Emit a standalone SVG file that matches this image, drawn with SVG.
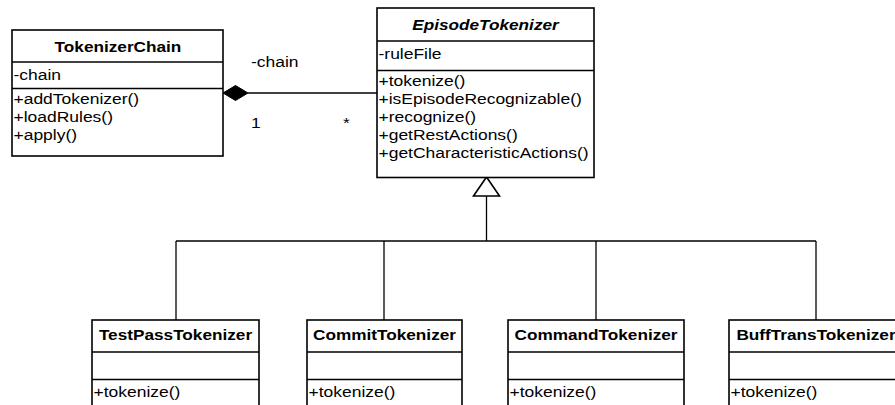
<svg xmlns="http://www.w3.org/2000/svg" width="895" height="405" viewBox="0 0 895 405">
  <style>
    .box { fill: #fff; stroke: #000; stroke-width: 1.6; }
    .div { stroke: #000; stroke-width: 1.6; }
    .edge { fill: none; stroke: #000; stroke-width: 1.3; }
    text { font-family: "Liberation Sans", Arial, sans-serif; font-size: 15px; fill: #000; }
    .ttl { font-weight: bold; text-anchor: middle; }
    .abs { font-style: italic; }
  </style>
  <rect width="895" height="405" fill="#fff"/>

  <!-- connectors: composition and generalization -->
  <g id="connectors">
    <line class="edge" x1="248" y1="93" x2="377" y2="93"/>
    <polygon points="223,93 235.5,85.5 248,93 235.5,100.5" fill="#000" stroke="#000" stroke-width="1"/>
    <text transform="matrix(1.165 0 0 1 251 67)">-chain</text>
    <text transform="matrix(1.165 0 0 1 251 128)">1</text>
    <text transform="matrix(1.165 0 0 1 343 128)">*</text>

    <line class="edge" x1="486.5" y1="196" x2="486.5" y2="241"/>
    <line class="edge" x1="176" y1="241" x2="816" y2="241"/>
    <line class="edge" x1="176" y1="241" x2="176" y2="320"/>
    <line class="edge" x1="384" y1="241" x2="384" y2="320"/>
    <line class="edge" x1="596" y1="241" x2="596" y2="320"/>
    <line class="edge" x1="816" y1="241" x2="816" y2="320"/>
    <polygon points="486.5,177 473.5,196 499.5,196" fill="#fff" stroke="#000" stroke-width="1.6"/>
  </g>

  <g id="TokenizerChain">
    <rect class="box" x="12" y="30" width="211" height="126"/>
    <line class="div" x1="12" y1="62" x2="223" y2="62"/>
    <line class="div" x1="12" y1="88.5" x2="223" y2="88.5"/>
    <text class="ttl" transform="matrix(1.148 0 0 1 118 52)">TokenizerChain</text>
    <text transform="matrix(1.165 0 0 1 13.5 79.5)">-chain</text>
    <text transform="matrix(1.165 0 0 1 13.5 104)">+addTokenizer()</text>
    <text transform="matrix(1.165 0 0 1 13.5 122)">+loadRules()</text>
    <text transform="matrix(1.165 0 0 1 13.5 140)">+apply()</text>
  </g>

  <g id="EpisodeTokenizer">
    <rect class="box" x="377" y="8" width="217" height="169.5"/>
    <line class="div" x1="377" y1="41" x2="594" y2="41"/>
    <line class="div" x1="377" y1="70.5" x2="594" y2="70.5"/>
    <text class="ttl abs" transform="matrix(1.148 0 0 1 485.5 30)">EpisodeTokenizer</text>
    <text transform="matrix(1.165 0 0 1 378.5 59)">-ruleFile</text>
    <text transform="matrix(1.165 0 0 1 378.5 86)">+tokenize()</text>
    <text transform="matrix(1.165 0 0 1 378.5 104)">+isEpisodeRecognizable()</text>
    <text transform="matrix(1.165 0 0 1 378.5 122)">+recognize()</text>
    <text transform="matrix(1.165 0 0 1 378.5 140)">+getRestActions()</text>
    <text transform="matrix(1.165 0 0 1 378.5 158)">+getCharacteristicActions()</text>
  </g>

  <g id="TestPassTokenizer">
    <rect class="box" x="92" y="320" width="167" height="100"/>
    <line class="div" x1="92" y1="352" x2="259" y2="352"/>
    <line class="div" x1="92" y1="379.5" x2="259" y2="379.5"/>
    <text class="ttl" transform="matrix(1.148 0 0 1 175.5 339.5)">TestPassTokenizer</text>
    <text transform="matrix(1.165 0 0 1 93.5 396.5)">+tokenize()</text>
  </g>

  <g id="CommitTokenizer">
    <rect class="box" x="307" y="320" width="155" height="100"/>
    <line class="div" x1="307" y1="352" x2="462" y2="352"/>
    <line class="div" x1="307" y1="379.5" x2="462" y2="379.5"/>
    <text class="ttl" transform="matrix(1.148 0 0 1 384.5 339.5)">CommitTokenizer</text>
    <text transform="matrix(1.165 0 0 1 308.5 396.5)">+tokenize()</text>
  </g>

  <g id="CommandTokenizer">
    <rect class="box" x="508" y="320" width="176" height="100"/>
    <line class="div" x1="508" y1="352" x2="684" y2="352"/>
    <line class="div" x1="508" y1="379.5" x2="684" y2="379.5"/>
    <text class="ttl" transform="matrix(1.148 0 0 1 596 339.5)">CommandTokenizer</text>
    <text transform="matrix(1.165 0 0 1 509.5 396.5)">+tokenize()</text>
  </g>

  <g id="BuffTransTokenizer">
    <rect class="box" x="729" y="320" width="174" height="100"/>
    <line class="div" x1="729" y1="352" x2="903" y2="352"/>
    <line class="div" x1="729" y1="379.5" x2="903" y2="379.5"/>
    <text class="ttl" transform="matrix(1.148 0 0 1 816 339.5)">BuffTransTokenizer</text>
    <text transform="matrix(1.165 0 0 1 730.5 396.5)">+tokenize()</text>
  </g>
</svg>
